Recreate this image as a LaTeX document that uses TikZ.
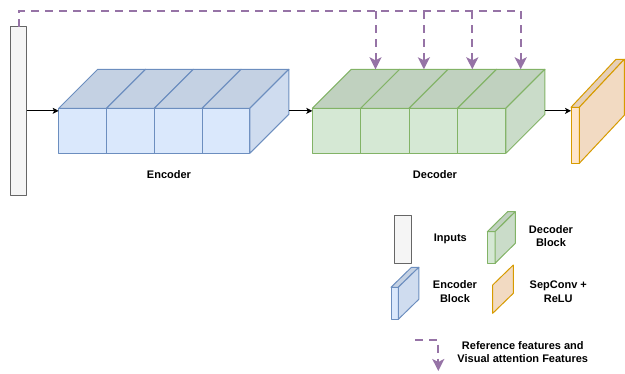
\documentclass[tikz,border=0pt]{standalone}
\usepackage{fontspec}
\setmainfont{Liberation Sans}
\usetikzlibrary{arrows.meta,calc,positioning}

\definecolor{encfill}{HTML}{DAE8FC}
\definecolor{encline}{HTML}{6C8EBF}
\definecolor{decfill}{HTML}{D5E8D4}
\definecolor{decline}{HTML}{82B366}
\definecolor{sepfill}{HTML}{FFE6CC}
\definecolor{sepline}{HTML}{D79B00}
\definecolor{infill}{HTML}{F5F5F5}
\definecolor{inborder}{HTML}{666666}
\definecolor{featcol}{HTML}{9673A6}

\tikzset{
  face/.style={inner sep=0pt, outer sep=0pt, line width=1pt, line join=round},
  inputbox/.style={face, draw=inborder, fill=infill, minimum width=16pt, minimum height=168.3pt},
  encface/.style={face, draw=encline, fill=encfill, minimum width=47.8pt, minimum height=45pt},
  enctop/.style={face, draw=encline, fill=encfill!90!black},
  encside/.style={face, draw=encline, fill=encfill!95!black},
  decface/.style={face, draw=decline, fill=decfill, minimum width=48.4pt, minimum height=45pt},
  dectop/.style={face, draw=decline, fill=decfill!90!black},
  decside/.style={face, draw=decline, fill=decfill!95!black},
  sepface/.style={face, draw=sepline, fill=sepfill, minimum width=8.3pt, minimum height=56pt},
  septop/.style={face, draw=sepline, fill=sepfill!90!black},
  sepside/.style={face, draw=sepline, fill=sepfill!95!black},
  lbl/.style={font=\bfseries\fontsize{11}{13.3}\selectfont, align=center, inner sep=0pt},
  flow/.style={line width=1pt, -{Stealth[length=6pt,width=6pt,inset=1.5pt]}},
  feat/.style={draw=featcol, line width=2pt, dash pattern=on 8pt off 6pt},
  featarrow/.style={feat, -{Stealth[length=12pt,width=12pt,inset=3pt]}}
}

\begin{document}
\begin{tikzpicture}[x=1pt,y=-1pt]
\useasboundingbox (0,0) rectangle (625,373);

% Inputs
\node[inputbox, anchor=north west] (inputs) at (10.7,26.7) {};

% Encoder
\foreach \i in {1,...,4}
  \node[encface, anchor=north west] (enc\i) at ({58.7+47.8*(\i-1)},108.3) {};
\foreach \i in {1,...,4}
  \draw[enctop] (enc\i.north west) -- (enc\i.north east) -- ++(39,-39) -- ++(-47.8,0) -- cycle;
\draw[encside] (enc4.north east) -- ++(39,-39) -- ++(0,45) -- (enc4.south east) -- cycle;
\coordinate (encback) at ($(enc4.north east)+(39,-39)$);

% Decoder
\foreach \i in {1,...,4}
  \node[decface, anchor=north west] (dec\i) at ({312.3+48.4*(\i-1)},108.3) {};
\foreach \i in {1,...,4} {
  \draw[dectop] (dec\i.north west) -- (dec\i.north east) -- ++(39,-39) -- ++(-48.4,0) -- cycle;
  \coordinate (decback\i) at ($(dec\i.north)+(39,-39)$);
}
\draw[decside] (dec4.north east) -- ++(39,-39) -- ++(0,45) -- (dec4.south east) -- cycle;
\coordinate (decback) at ($(dec4.north east)+(39,-39)$);

% SepConv + ReLU
\node[sepface, anchor=north west] (sep) at (571,107.3) {};
\draw[septop] (sep.north west) -- (sep.north east) -- ++(45,-48) -- ++(-8.3,0) -- cycle;
\draw[sepside] (sep.north east) -- ++(45,-48) -- ++(0,56) -- (sep.south east) -- cycle;

% Pfeile
\draw[flow] (inputs.east) -- (inputs.east -| enc1.west);
\draw[flow] (encback |- inputs.east) -- (dec1.west |- inputs.east);
\draw[flow] (decback |- inputs.east) -- (sep.west |- inputs.east);

% Features
\draw[feat] (inputs.north) -- ++(0,-15.7) coordinate (feattop) -- (decback4 |- feattop);
\foreach \i in {1,...,4}
  \draw[featarrow] (decback\i |- feattop) -- (decback\i);

\node[lbl] (enclabel) at (169,175) {Encoder};
\node[lbl] (declabel) at (435,175) {Decoder};

% Legende
\node[inputbox, anchor=north west, minimum width=17.4pt, minimum height=48.3pt] (leginputs) at (394.3,215) {};
\node[lbl] (leginputstext) at (450.3,239.3) {Inputs};

\node[decface, anchor=north west, minimum width=7.7pt, minimum height=31.6pt] (legdec) at (487.3,231.7) {};
\draw[dectop] (legdec.north west) -- (legdec.north east) -- ++(20.3,-20) -- ++(-7.7,0) -- cycle;
\draw[decside] (legdec.north east) -- ++(20.3,-20) -- ++(0,31.6) -- (legdec.south east) -- cycle;
\node[lbl] (legdectext) at (551,235.8) {Decoder\\Block};

\node[encface, anchor=north west, minimum width=7.3pt, minimum height=32pt] (legenc) at (391,287.3) {};
\draw[enctop] (legenc.north west) -- (legenc.north east) -- ++(20.5,-20) -- ++(-7.3,0) -- cycle;
\draw[encside] (legenc.north east) -- ++(20.5,-20) -- ++(0,32) -- (legenc.south east) -- cycle;
\node[lbl] (legenctext) at (455,291.7) {Encoder\\Block};

\coordinate (legsep) at (492.7,285);
\draw[sepside] (legsep) -- ++(20.6,-20) -- ++(0,28.3) -- ++(-20.6,20) -- cycle;
\node[lbl] (legseptext) at (558.3,291.7) {SepConv +\\ReLU};

\coordinate (legfeat) at (415,340);
\coordinate (legfeattip) at (438.3,371);
\draw[featarrow] (legfeat) -| (legfeattip);
\node[lbl] (legfeattext) at (522.8,352.3) {Reference features and\\Visual attention Features};

\end{tikzpicture}
\end{document}
